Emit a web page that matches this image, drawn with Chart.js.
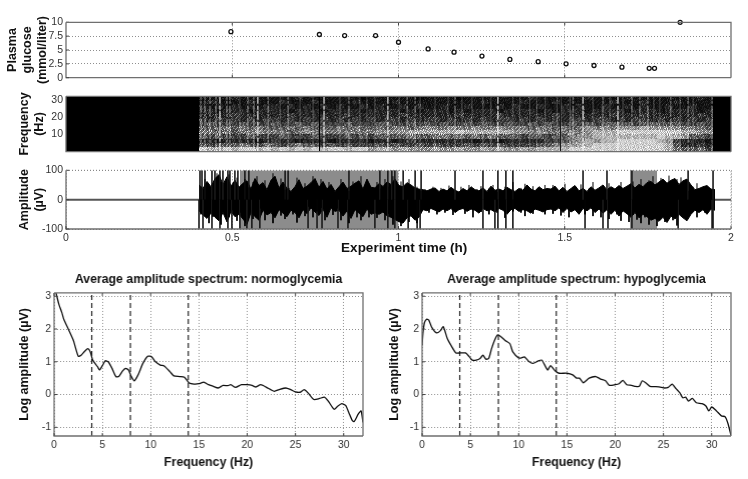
<!DOCTYPE html>
<html><head><meta charset="utf-8">
<style>html,body{margin:0;padding:0;background:#fff;width:748px;height:479px;overflow:hidden}canvas{position:absolute}</style>
<script src="https://cdn.jsdelivr.net/npm/chart.js@4/dist/chart.umd.min.js"></script>
</head><body>
<script>
// ---------- data ----------
const glucoseTimes  = [0.496,0.762,0.838,0.931,1.0,1.089,1.167,1.251,1.335,1.42,1.504,1.588,1.672,1.754,1.77,1.847];
const glucoseValues = [8.3,7.8,7.6,7.6,6.4,5.2,4.6,3.9,3.3,2.9,2.5,2.2,1.9,1.7,1.7,10];

const recordingStart = 0.4, sampleStep = 0.01203, cellStep = 0.02416;
const amplitudeUpper = [50,38,62,44,72,85,52,78,46,66,42,56,64,36,72,48,58,34,66,80,40,60,38,28,44,68,38,46,58,72,42,62,36,52,28,44,60,38,46,56,64,36,70,42,
 40,55,45,60,52,70,48,44,58,50,40,36,34,30,36,40,28,36,30,42,32,26,38,30,44,34,30,40,28,46,32,36,30,42,34,28,38,32,50,36,30,44,34,38,
 36,46,30,42,28,38,48,30,38,28,44,32,40,50,34,44,36,48,38,46,54,40,52,44,58,62,50,60,70,56,66,72,52,64,70,50,34,38,44,48,36,34];
const amplitudeLower = [-38,-52,-64,-46,-60,-72,-44,-76,-40,-58,-50,-66,-84,-44,-58,-70,-36,-52,-44,-62,-34,-46,-58,-36,-44,-62,-34,-48,-28,-42,-54,-32,-60,-28,-40,-36,-56,-38,-64,-34,-46,-58,-32,-50,
 -45,-50,-42,-55,-60,-68,-75,-80,-62,-55,-70,-60,-34,-38,-30,-36,-42,-32,-38,-30,-44,-34,-30,-40,-32,-36,-46,-30,-38,-34,-42,-30,-36,-50,-34,-30,-40,-34,-38,-46,-32,-36,-42,-34,
 -32,-38,-28,-44,-30,-42,-34,-50,-30,-38,-28,-44,-32,-46,-34,-50,-36,-56,-38,-48,-60,-44,-62,-50,-58,-70,-64,-74,-60,-78,-56,-66,-50,-62,-72,-50,-36,-44,-34,-50,-32,-36];
const rippleUp = [45,70,36,58,90,60,48,86,38,75,34,70,42,60,80,44,66,30,90,50,72,34,40,36,75,42,56,34,80,50,70,32,60,40,34,70,44,30,62,50,80,32,55,40,
 60,38,70,44,80,40,62,36,70,30,44,30,36,26,44,24,40,28,48,30,24,44,28,50,26,36,46,24,38,50,26,34,44,28,60,24,40,54,26,46,30,36,50,
 30,50,28,36,54,26,44,34,52,26,38,60,28,44,34,56,30,42,60,36,48,62,40,70,46,66,80,50,74,60,82,48,70,76,60,30,44,56,34,40,28];
const rippleDown = [-50,-34,-80,-58,-40,-85,-50,-60,-36,-72,-44,-90,-40,-66,-50,-30,-70,-36,-80,-30,-54,-66,-32,-50,-78,-30,-56,-24,-60,-40,-28,-70,-25,-52,-30,-70,-36,-80,-30,-60,-70,-28,-60,-40,
 -62,-36,-70,-48,-85,-60,-90,-55,-76,-44,-80,-40,-28,-44,-26,-50,-30,-44,-24,-52,-30,-26,-48,-28,-60,-26,-42,-30,-50,-26,-44,-28,-62,-26,-40,-30,-44,-56,-26,-48,-34,-26,-50,
 -26,-48,-24,-54,-32,-60,-28,-42,-26,-50,-24,-56,-30,-60,-32,-66,-36,-50,-72,-40,-76,-52,-68,-80,-60,-85,-54,-90,-50,-76,-46,-70,-88,-40,-30,-56,-28,-60,-26,-44,-28];
const spikesUp = [.403,.409,.418,.439,.448,.463,.472,.487,.493,.508,.517,.538,.55,.659,.668,.851,.944,.968,.98,.989,1.014,1.05,1.068,1.17,1.254,1.299,1.323,1.344,1.555,1.627,1.702,1.871,1.946];
const spikesDown = [.4,.412,.439,.463,.487,.499,.523,.544,.559,.583,.728,.755,.77,.818,.848,.929,.968,.989,1.029,1.056,1.065,1.254,1.29,1.299,1.323,1.344,1.561,1.615,1.63,1.702,1.841,1.943,1.946];
const shadedSpans = [[0.523,1.0],[1.696,1.778]];
const flatSpans = [[0,0.4],[1.945,2]];

// spectrogram brightness 0-9: one string per frequency band, high frequency first, one digit per time column
const spectrogramRows = [
"2222322222 2232222222 1222222122 2212222222 2322222232 2223222222 2232",
"2322223222 3222322223 2222322222 2222232222 3222322222 2322232223 2222",
"3232323233 2323232322 3232232322 3223222323 2232232322 3223232232 2322",
"3323332333 3233323333 2333323233 3232333233 3323233323 3332333233 3323",
"3333433333 3433333343 3333343333 3343333433 3333433333 3433343333 3343",
"4343434344 3434343434 3434434344 3434343443 4343434434 4343443434 3434",
"4544454445 4454544454 4455445454 5445454454 4545445454 5555455555 4454",
"5556565655 5656555656 5565665676 6766766766 6566565676 7677787777 6665",
"6656566766 6567666666 6677778888 8898888887 7676667678 8899999999 8877",
"5454445444 5444544454 5455556556 6565656555 4554556778 8888888988 7554",
"3323333234 3323332333 3233234333 3333233233 3334456787 8899999874 3332",
"5455565465 4565545454 4454544545 4445454544 4455677889 9999999985 3343",
"9889899898 9898989989 9788787778 7787787877 8788889999 9999999986 5564"
];
// vertical streak times in the spectrogram, strongest first
const streakStrong = [.463,.577,.776,.968,1.299,1.555,1.66];
const streakMedium = [.406,.418,.433,.451,.484,.493,.547,.565,.608,.668,.851,1.026,1.05,1.17,1.525,1.615,1.702,1.726,1.75,1.819,1.871,1.943];
const streakFaint  = [.523,.644,.704,.743,.824,.884,.905,.929,1.002,1.065,1.11,1.149,1.191,1.221,1.254,1.278,1.344,1.365,1.395,1.416,1.441,1.477,1.489,1.516,1.585,1.636,1.675,1.768,1.786,1.847,1.886];
// fixed grain used to texture the spectrogram cells (style only)
const grain = [
[.2,2.6,.3,1.2,.1,2.2,.4,.9],[1.4,.2,.6,.3,2.8,.2,1,.3],[.3,.9,.2,2.4,.4,.7,.2,2],[2.5,.3,1.1,.2,.5,.2,2.7,.3],
[.2,.6,.3,2.9,.2,1.2,.4,.8],[1,.2,2.3,.4,.8,.2,.3,2.2],[.4,2.7,.2,.3,1.6,.5,.9,.2],[.7,.3,.8,2.5,.2,2.4,.3,.6]];

const bandEdges = [3.9,7.9,13.9];
const normoHz  = [0.2,0.5,0.8,1,1.5,2,2.5,2.8,3.2,3.5,3.75,4,4.5,4.7,5,5.3,5.6,6,6.4,6.7,7.1,7.4,7.7,8,8.3,8.7,9.2,9.7,10.1,10.5,11,11.4,12,12.4,13,13.5,14,14.5,15,15.5,16,16.5,17,17.5,18,18.3,18.8,19.4,20,20.5,20.9,21.4,22,22.8,23.3,24,24.5,25,25.5,25.9,26.3,26.9,27.5,28,28.4,29,29.4,29.8,30.2,30.6,30.9,31.1,31.5,31.8,32];
const normoLog = [3.1,2.75,2.5,2.3,1.98,1.65,1.17,1.2,1.33,1.4,1.3,1.05,.85,.75,.88,1.03,1,.8,.55,.55,.72,.8,.75,.55,.42,.6,.95,1.17,1.15,1,.9,.87,.7,.57,.55,.53,.35,.32,.33,.38,.3,.25,.2,.28,.27,.3,.22,.3,.3,.28,.23,.3,.22,.1,.15,.2,.15,.08,.07,.15,.05,-.15,-.12,-.08,-.2,-.45,-.35,-.28,-.33,-.6,-.8,-.82,-.6,-.5,-.85];
const hypoHz  = [0,.1,.25,.5,.7,1,1.5,1.9,2.2,2.6,3,3.5,4,4.5,4.9,5.2,5.6,6,6.3,6.6,6.9,7.2,7.5,7.8,8.1,8.6,9.1,9.4,10,10.3,10.6,11.1,11.5,12,12.4,13,13.3,13.8,14.2,15,15.6,16,16.3,16.7,17.3,18,18.5,19,19.4,20,20.4,20.8,21.2,21.7,22.1,22.5,22.8,23.2,23.6,24.2,24.8,25.1,25.5,25.9,26.3,26.7,27,27.3,27.6,28,28.4,29,29.4,29.7,30,30.5,31,31.4,31.7,32];
const hypoLog = [1.5,1.9,2.2,2.3,2.27,2.05,1.88,1.95,2.07,1.72,1.5,1.27,1.27,1.27,1.15,1.05,1.05,1.1,1.2,1.08,1.1,1.4,1.65,1.82,1.78,1.65,1.55,1.3,1.12,1.12,1.15,1,.95,1.02,1.05,.75,.88,.72,.65,.65,.6,.5,.5,.36,.5,.55,.47,.42,.28,.3,.33,.43,.3,.28,.25,.25,.42,.35,.25,.24,.22,.2,.22,.32,.18,.05,-.1,-.08,-.2,-.12,-.25,-.28,-.35,-.5,-.38,-.5,-.65,-.68,-.9,-1.25];

const glucoseTicks = [0,2.5,5,7.5,10], freqTicks = [10,20,30], ampTicks = [-100,0,100], timeTicks = [0,0.5,1,1.5,2];
const specXTicks = [0,5,10,15,20,25,30], specYTicks = [-1,0,1,2,3];

// ---------- helpers ----------
Chart.defaults.font.family = '"Liberation Sans", Arial, sans-serif';
Chart.defaults.color = '#333';
const dotted = {color:'#8f8f8f', lineWidth:1, drawTicks:false};
const gridBorder = {display:false, dash:[1,2]};
function xy(xs,ys){ return xs.map((x,i)=>({x, y:ys[i]})); }
function listTicks(list){ return s=>{ s.ticks = list.map(v=>({value:v})); }; }
const plainLabel = v=>String(v);
function verticals(times,from,to){ const pts=[]; times.forEach((t,i)=>{ const top=Array.isArray(to)?to[i]:to; pts.push({x:t,y:from},{x:t,y:top},{x:NaN,y:NaN}); }); return pts; }

function panel(p){
  const padR = 9, padT = p.titleText ? 26 : 8;
  const plotW = p.right-p.left, plotH = p.bottom-p.top;
  const c = document.createElement('canvas');
  const W = p.yw+plotW+padR, H = padT+plotH+p.xh;
  c.width = W; c.height = H;
  c.style.left = (p.left-p.yw)+'px'; c.style.top = (p.top-padT)+'px';
  c.style.width = W+'px'; c.style.height = H+'px';
  document.body.appendChild(c);
  const framePlugin = {
    id:'frame',
    beforeDatasetsDraw(ch){ if(p.bg){ const a=ch.chartArea; ch.ctx.fillStyle=p.bg; ch.ctx.fillRect(a.left,a.top,a.width,a.height);} },
    afterDatasetsDraw(ch){
      const a=ch.chartArea, g=ch.ctx; g.save(); g.strokeStyle='#6f6f6f'; g.lineWidth=1.3;
      g.beginPath(); g.moveTo(a.left,a.top); g.lineTo(a.left,a.bottom); g.lineTo(a.right,a.bottom); g.stroke();
      if(!p.noGrid){
        g.strokeStyle='#444'; g.lineWidth=1; g.beginPath();
        ch.scales.x.ticks.forEach(t=>{const x=ch.scales.x.getPixelForValue(t.value); g.moveTo(x,a.bottom); g.lineTo(x,a.bottom-3); if(!p.openFrame){g.moveTo(x,a.top); g.lineTo(x,a.top+3);} });
        ch.scales.y.ticks.forEach(t=>{const y=ch.scales.y.getPixelForValue(t.value); g.moveTo(a.left,y); g.lineTo(a.left+3,y); });
        g.stroke();
      }
      g.strokeStyle='#6f6f6f'; g.lineWidth=1.3;
      if(p.openFrame){ g.strokeStyle='#888'; g.lineWidth=1; g.setLineDash([1,2]); }
      g.beginPath(); g.moveTo(a.left,a.top); g.lineTo(a.right,a.top); g.lineTo(a.right,a.bottom); g.stroke();
      g.restore();
    }
  };
  return new Chart(c,{
    type:'scatter',
    data:{datasets:p.datasets},
    plugins:[framePlugin],
    options:{
      responsive:false, animation:false, devicePixelRatio:1, events:[],
      layout:{padding:{left:0,right:padR,top:p.titleText?padT-20.8:padT,bottom:0}},
      plugins:{
        legend:{display:false}, tooltip:{enabled:false},
        title: p.titleText ? {display:true,text:p.titleText,fullSize:false,color:'#111',font:{size:12.3,weight:'bold'},padding:{top:0,bottom:6}} : {display:false}
      },
      scales:{
        x:{type:'linear',min:p.xr[0],max:p.xr[1],
           afterBuildTicks:listTicks(p.xTicks),
           afterFit:s=>{s.height=p.xh;},
           grid:p.noGrid?{display:false,drawTicks:false}:dotted,border:gridBorder,
           ticks:{display:!p.hideXLabels,font:{size:10.5},padding:3,maxRotation:0,autoSkip:false,color:'#333',callback:plainLabel},
           title:p.xTitle?{display:true,text:p.xTitle,color:'#111',font:{size:p.xTitleSize||12.3,weight:'bold'},padding:0}:{display:false}},
        y:{type:'linear',min:p.yr[0],max:p.yr[1],
           afterBuildTicks:listTicks(p.yTicks),
           afterFit:s=>{s.width=p.yw;},
           grid:p.noGrid?{display:false,drawTicks:false}:dotted,border:gridBorder,
           ticks:{font:{size:10.5},padding:3,autoSkip:false,color:'#333',callback:plainLabel},
           title:{display:true,text:p.yTitle,color:'#111',font:{size:12.5,weight:'bold'},padding:0,lineHeight:1.18}}
      }
    }
  });
}
function spectrum(left,right,yw,title,hz,log){
  const edges = bandEdges.map(f=>({showLine:true,data:[{x:f,y:-1.265},{x:f,y:3.1}],borderColor:'#222',borderWidth:1.2,borderDash:[5,3],pointRadius:0,order:2}));
  panel({left,right,top:292.7,bottom:436,yw,xh:34,xr:[0,32],yr:[-1.265,3.1],xTicks:specXTicks,yTicks:specYTicks,
    yTitle:'Log amplitude (\u00b5V)',xTitle:'Frequency (Hz)',titleText:title,
    datasets:[{data:xy(hz,log),showLine:true,borderColor:'#111',borderWidth:1.3,tension:0.2,pointRadius:0,order:1},...edges]});
}

// ---------- top panel: glucose ----------
panel({left:66,right:731,top:20.5,bottom:80.5,yw:61,xh:6,xr:[0,2],yr:[0,10],xTicks:[0.5,1,1.5],yTicks:glucoseTicks,hideXLabels:true,
  yTitle:['Plasma','glucose','(mmol/liter)'],
  datasets:[{data:xy(glucoseTimes,glucoseValues),pointRadius:2,pointBorderWidth:1.3,pointBorderColor:'#111',pointBackgroundColor:'rgba(255,255,255,0.7)',clip:false}]});

// ---------- spectrogram ----------
const greyCells = [];
for(let v=0;v<10;v++){
  const k=255*Math.pow(v/9,1.6), w=v/17, variants=[];
  for(let i=0;i<8;i++){
    const t=document.createElement('canvas'); t.width=8; t.height=5;
    const g=t.getContext('2d');
    for(let px=0;px<8;px++)for(let py=0;py<5;py++){
      const mult=grain[(py+i*5)%8][(px+i*3)%8];
      const m=Math.min(255,Math.round(k*(mult*(1-w)+w)));
      g.fillStyle='rgb('+m+','+m+','+m+')'; g.fillRect(px,py,1,1);
    }
    variants.push(t);
  }
  greyCells.push(variants);
}
const cellPoints = [];
spectrogramRows.forEach((row,r)=>{
  row.replace(/ /g,'').split('').forEach((d,c)=>{
    cellPoints.push({x:recordingStart+(c+0.5)*cellStep, y:32*(1-(r+0.5)/spectrogramRows.length), v:+d, g:(c*3+r*5)%8});
  });
});
const streakSet=(times,col,w,dash)=>({data:verticals(times,0,32),showLine:true,borderColor:col,borderWidth:w,borderDash:dash,pointRadius:0,spanGaps:false,order:1});
panel({left:66,right:731,top:94.7,bottom:155.3,yw:49,xh:6,xr:[0,2],yr:[0,32],xTicks:[],yTicks:freqTicks,hideXLabels:true,noGrid:true,bg:'#000',
  yTitle:['Frequency','(Hz)'],
  datasets:[
    {data:cellPoints,pointRadius:3,order:2,pointStyle:ctx=>{const d=ctx.raw;return d?greyCells[d.v][d.g]:greyCells[0][0];}},
    streakSet(streakStrong,'rgba(255,255,255,0.75)',1.4,[9,1,4,2]),
    streakSet(streakMedium,'rgba(255,255,255,0.45)',1.2,[7,2,3,1]),
    streakSet(streakFaint,'rgba(255,255,255,0.26)',1,[])
  ]});

// ---------- amplitude ----------
const times = amplitudeUpper.map((_,i)=>recordingStart+i*sampleStep);
const midTimes = rippleUp.map((_,i)=>recordingStart+(i+0.5)*sampleStep);
const ampSets = [
  {data:xy(times,amplitudeUpper),showLine:true,borderColor:'#000',borderWidth:1,pointRadius:0,fill:'+1',backgroundColor:'#000',order:2},
  {data:xy(times,amplitudeLower),showLine:true,borderColor:'#000',borderWidth:1,pointRadius:0,order:3},
  {data:verticals(midTimes,0,rippleUp),showLine:true,borderColor:'#000',borderWidth:1,pointRadius:0,spanGaps:false,order:1},
  {data:verticals(midTimes,0,rippleDown),showLine:true,borderColor:'#000',borderWidth:1,pointRadius:0,spanGaps:false,order:1},
  {data:verticals(spikesUp,0,100),showLine:true,borderColor:'#1a1a1a',borderWidth:1.6,pointRadius:0,spanGaps:false,order:1},
  {data:verticals(spikesDown,0,-100),showLine:true,borderColor:'#1a1a1a',borderWidth:1.6,pointRadius:0,spanGaps:false,order:1}
];
shadedSpans.forEach(s=>ampSets.push({data:[{x:s[0],y:100},{x:s[1],y:100}],showLine:true,borderWidth:0,pointRadius:0,fill:{value:-100},backgroundColor:'#8c8c8c',order:5}));
flatSpans.forEach(s=>ampSets.push({data:[{x:s[0],y:0},{x:s[1],y:0}],showLine:true,borderColor:'#555',borderWidth:2,pointRadius:0,order:4}));
panel({left:66,right:731,top:169,bottom:229.3,yw:49,xh:27,xr:[0,2],yr:[-100,100],xTicks:timeTicks,yTicks:ampTicks,openFrame:true,xTitleSize:13.5,
  yTitle:['Amplitude','(\u00b5V)'],xTitle:'\u00a0\u00a0\u00a0Experiment time (h)',datasets:ampSets});

// ---------- spectra ----------
spectrum(54,362.7,37,'Average amplitude spectrum: normoglycemia',normoHz,normoLog);
spectrum(422.3,731.3,35,'Average amplitude spectrum: hypoglycemia',hypoHz,hypoLog);
</script>
</body></html>
